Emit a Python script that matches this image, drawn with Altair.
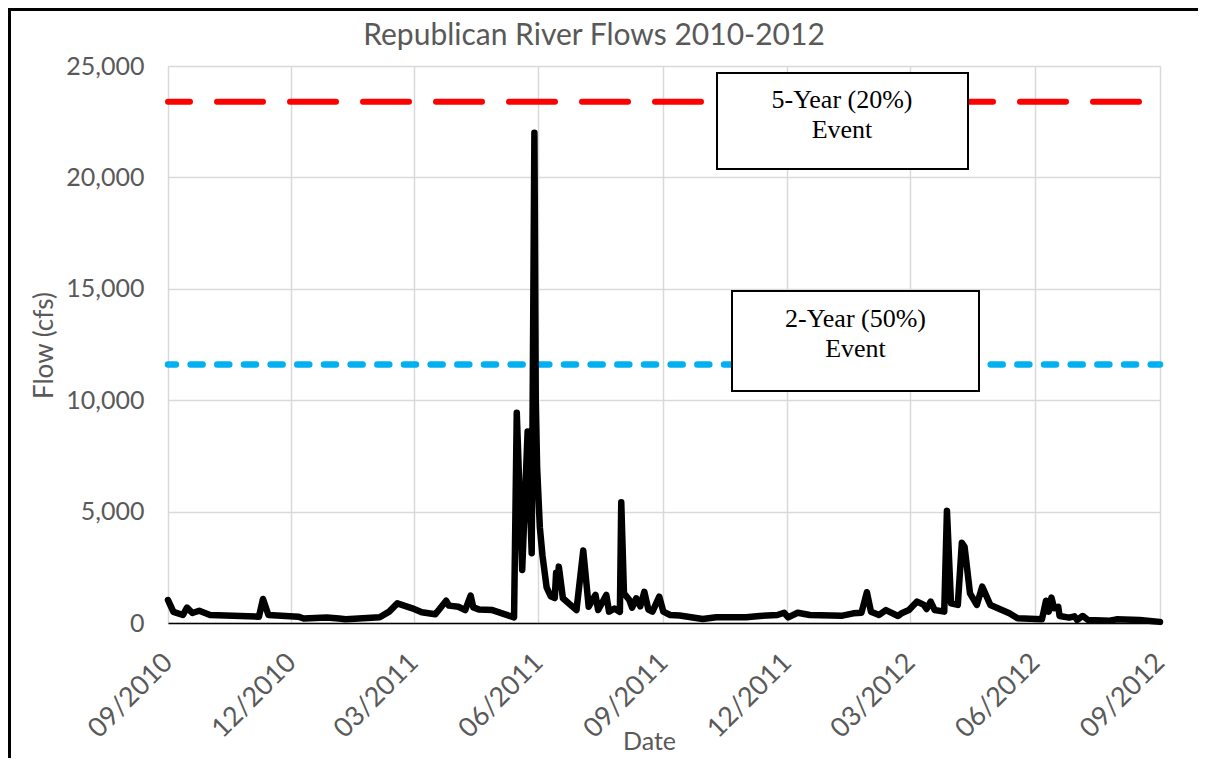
import altair as alt
import pandas as pd

# ---------------- data ----------------
dates = [
    "2010-09-01", "2010-09-05", "2010-09-12", "2010-09-15", "2010-09-19", "2010-09-24",
    "2010-10-02", "2010-11-07", "2010-11-10", "2010-11-14", "2010-12-06", "2010-12-10",
    "2010-12-27", "2011-01-05", "2011-01-10", "2011-02-04", "2011-02-11", "2011-02-17",
    "2011-02-28", "2011-03-07", "2011-03-17", "2011-03-25", "2011-03-27", "2011-04-03",
    "2011-04-08", "2011-04-12", "2011-04-14", "2011-04-18", "2011-04-28", "2011-05-14",
    "2011-05-16", "2011-05-20", "2011-05-24", "2011-05-27", "2011-05-29", "2011-05-30",
    "2011-05-31", "2011-06-02", "2011-06-04", "2011-06-07", "2011-06-10", "2011-06-13",
    "2011-06-14", "2011-06-15", "2011-06-16", "2011-06-19", "2011-06-29", "2011-07-04",
    "2011-07-08", "2011-07-13", "2011-07-15", "2011-07-21", "2011-07-23", "2011-07-27",
    "2011-07-31", "2011-08-01", "2011-08-03", "2011-08-07", "2011-08-09", "2011-08-12",
    "2011-08-15", "2011-08-18", "2011-08-21", "2011-08-24", "2011-08-29", "2011-09-01",
    "2011-09-06", "2011-09-13", "2011-09-30", "2011-10-10", "2011-11-01", "2011-11-11",
    "2011-11-24", "2011-11-29", "2011-12-02", "2011-12-09", "2011-12-18", "2012-01-11",
    "2012-01-19", "2012-01-25", "2012-01-29", "2012-02-01", "2012-02-07", "2012-02-12",
    "2012-02-21", "2012-02-24", "2012-02-29", "2012-03-06", "2012-03-11", "2012-03-13",
    "2012-03-16", "2012-03-19", "2012-03-26", "2012-03-28", "2012-03-31", "2012-04-05",
    "2012-04-08", "2012-04-10", "2012-04-14", "2012-04-19", "2012-04-23", "2012-04-29",
    "2012-05-13", "2012-05-19", "2012-06-06", "2012-06-09", "2012-06-11", "2012-06-13",
    "2012-06-15", "2012-06-18", "2012-06-19", "2012-06-26", "2012-06-30", "2012-07-02",
    "2012-07-06", "2012-07-10", "2012-07-26", "2012-07-31", "2012-08-17", "2012-09-01",
]
flows = [
    1030, 500, 360, 690, 450, 550,
    360, 285, 1080, 360, 285, 200,
    250, 200, 165, 255, 510, 880,
    660, 480, 390, 1000, 780, 730,
    580, 1230, 700, 610, 580, 255,
    9440, 2380, 8590, 3130, 22000, 10000,
    7000, 4300, 3000, 1600, 1200, 1120,
    2260, 1800, 2530, 1110, 580, 3250,
    730, 1260, 580, 1260, 510, 650,
    500, 5420, 1330, 1030, 690, 1110,
    750, 1400, 600, 510, 1180, 510,
    360, 340, 180, 255, 255, 315,
    360, 460, 255, 460, 360, 330,
    435, 460, 1380, 510, 360, 580,
    315, 450, 580, 960, 810, 630,
    960, 580, 510, 5040, 880, 810,
    3600, 3420, 1330, 810, 1630, 810,
    435, 210, 165, 1000, 510, 1140,
    660, 730, 315, 240, 300, 135,
    315, 135, 100, 165, 135, 50,
]
event_names = ["5-Year (20%)", "2-Year (50%)"]
event_word = "Event"
event_flows = [23400, 11600]
x_ticks = ["2010-09-01", "2010-12-01", "2011-03-01", "2011-06-01", "2011-09-01",
           "2011-12-01", "2012-03-01", "2012-06-01", "2012-09-01"]
y_ticks = [0, 5000, 10000, 15000, 20000, 25000]
chart_title = "Republican River Flows 2010-2012"
x_title = "Date"
y_title = "Flow (cfs)"

# ---------------- layout / style ----------------
W, H = 992, 557
PAD = {"left": 160, "top": 58, "right": 38, "bottom": 135}
SANS = "Lato"
SERIF = "Liberation Serif"
GRAY = "#595959"


def dt(s):
    y, m, d = (int(v) for v in s.split("-"))
    return alt.DateTime(year=y, month=m, date=d, utc=True)


flow_df = pd.DataFrame({"date": dates, "flow": flows})

x_enc = alt.X(
    "date:T",
    scale=alt.Scale(type="utc", domain=[dt(x_ticks[0]), dt(x_ticks[-1])], nice=False),
    axis=alt.Axis(
        values=[dt(t) for t in x_ticks], format="%m/%Y", labelAngle=-45,
        labelAlign="right", labelBaseline="middle", labelPadding=35,
        ticks=False, grid=True, gridColor="#d9d9d9", gridWidth=1.5,
        domainColor="#000000", domainWidth=1.5,
        labelFont=SANS, labelFontSize=27, labelColor=GRAY,
        title=x_title, titleFont=SANS, titleFontSize=25, titleColor=GRAY,
        titleFontWeight="normal", titleX=481, titleY=126,
        titleAlign="center", titleBaseline="alphabetic",
    ),
)
y_enc = alt.Y(
    "flow:Q",
    scale=alt.Scale(domain=[0, 25000], nice=False),
    axis=alt.Axis(
        values=y_ticks, format=",.0f", ticks=False, domain=False,
        grid=True, gridColor="#d9d9d9", gridWidth=1.5, labelPadding=24,
        labelFont=SANS, labelFontSize=25, labelColor=GRAY,
        title=y_title, titleFont=SANS, titleFontSize=26, titleColor=GRAY,
        titleFontWeight="normal", titleX=-116, titleY=279, titleAngle=-90,
        titleAlign="center", titleBaseline="alphabetic",
    ),
)

flow_line = alt.Chart(flow_df).mark_line(
    color="#000000", strokeWidth=6.5, strokeJoin="round", strokeCap="round"
).encode(x=x_enc, y=y_enc)

red_rule = alt.Chart(pd.DataFrame({"flow": [event_flows[0]]})).mark_rule(
    color="#ff0000", strokeWidth=6, strokeCap="round",
    strokeDash=[46, 27], strokeDashOffset=52,
).encode(y="flow:Q")

blue_rule = alt.Chart(pd.DataFrame({"flow": [event_flows[1]]})).mark_rule(
    color="#00b0f0", strokeWidth=6.5, strokeCap="round",
    strokeDash=[12, 14.67], strokeDashOffset=2.72,
).encode(y="flow:Q")


def box(label, x0, x1, y0, y1, tx, ty):
    d = alt.Data(values=[{"label": label}])
    rect = alt.Chart(d).mark_rect(fill="#ffffff", stroke="#000000", strokeWidth=2).encode(
        x=alt.value(x0), x2=alt.value(x1), y=alt.value(y0), y2=alt.value(y1)
    )
    txt = alt.Chart(d).mark_text(
        font=SERIF, fontSize=26, lineHeight=30, lineBreak="\n",
        align="center", baseline="alphabetic", color="#000000",
    ).encode(text="label:N", x=alt.value(tx), y=alt.value(ty))
    return rect + txt


box1 = box(event_names[0] + "\n" + event_word, 549, 800, 7, 103, 674, 42)
box2 = box(event_names[1] + "\n" + event_word, 564, 811, 225, 325, 687.5, 261)

title_text = alt.Chart(alt.Data(values=[{"t": chart_title}])).mark_text(
    font=SANS, fontSize=30, color=GRAY, align="center", baseline="alphabetic"
).encode(text="t:N", x=alt.value(426), y=alt.value(-21))

frame_data = alt.Data(values=[{"k": 0}])
frame_top = alt.Chart(frame_data).mark_rule(color="#000000", strokeWidth=3).encode(
    x=alt.value(-PAD["left"]), x2=alt.value(W + PAD["right"]), y=alt.value(-PAD["top"] + 1.5)
)
frame_left = alt.Chart(frame_data).mark_rule(color="#000000", strokeWidth=3).encode(
    x=alt.value(-PAD["left"] + 1.5), y=alt.value(-PAD["top"]), y2=alt.value(H + PAD["bottom"])
)

chart = alt.layer(
    red_rule, blue_rule, flow_line, box1, box2, title_text, frame_top, frame_left
).properties(
    width=W, height=H,
    autosize=alt.AutoSizeParams(type="none"),
    padding=PAD,
).configure_view(stroke=None).configure(background="#ffffff")

chart.save("out.html", embed_options={"renderer": "svg", "actions": False})
